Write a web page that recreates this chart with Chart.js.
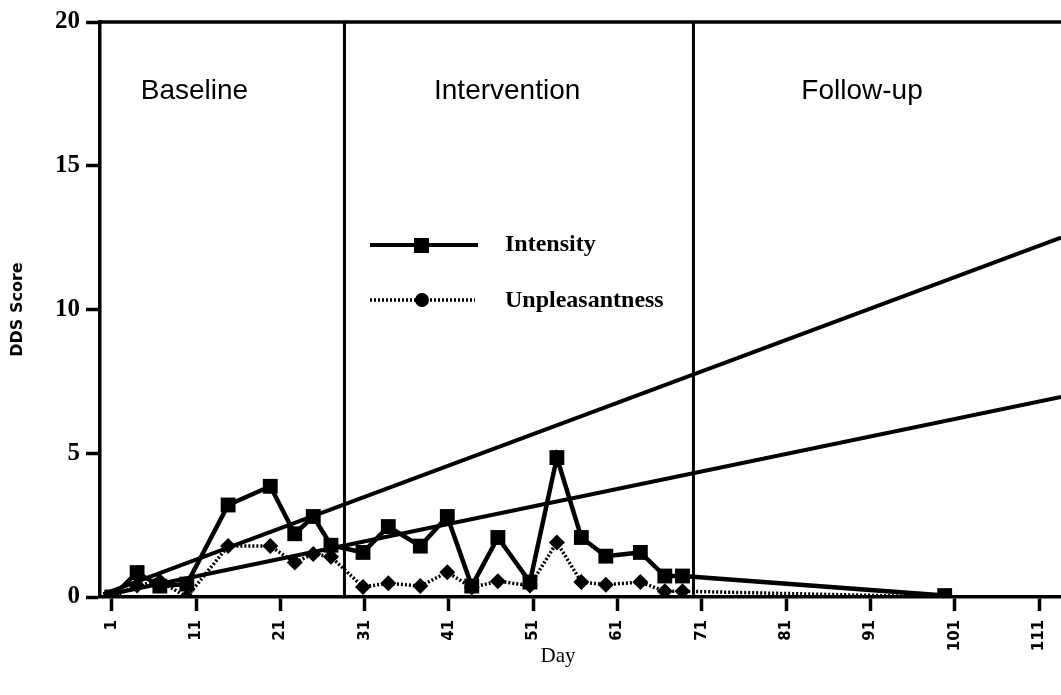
<!DOCTYPE html>
<html>
<head>
<meta charset="utf-8">
<title>DDS Score by Day</title>
<script src="https://cdn.jsdelivr.net/npm/chart.js@4.4.1/dist/chart.umd.min.js"></script>
<style>
    html, body { margin: 0; padding: 0; background: #fff; }
    #wrap { width: 1061px; height: 695px; }
</style>
</head>
<body>
<div id="wrap"><canvas id="ddsChart" width="1061" height="695"></canvas></div>
<script>
// Daily ratings
const days = [1, 4, 6.7, 9.9, 14.8, 19.8, 22.7, 24.9, 27, 30.8, 33.8, 37.6, 40.8, 43.7, 46.8, 50.6, 53.8, 56.7, 59.6, 63.7, 66.6, 68.7, 99.8];
const intensity = [0, 0.85, 0.38, 0.45, 3.2, 3.85, 2.2, 2.8, 1.8, 1.55, 2.45, 1.77, 2.8, 0.38, 2.07, 0.52, 4.85, 2.07, 1.42, 1.55, 0.73, 0.73, 0.05];
const unpleasantness = [0, 0.4, 0.55, 0, 1.77, 1.77, 1.2, 1.5, 1.4, 0.35, 0.48, 0.38, 0.86, 0.33, 0.55, 0.4, 1.9, 0.52, 0.43, 0.52, 0.2, 0.2, 0];

// Baseline trend lines (start / end of the day range)
const trendDays = [0, 113.6];
const intensityTrend = [0.1, 12.5];
const unpleasantnessTrend = [0.05, 6.96];

// Phases
const phaseNames = ["Baseline", "Intervention", "Follow-up"];
const phaseLabelDays = [10.8, 47.9, 90.0];
const phaseBreaks = [28.6, 70];

const xTicks = [1, 11, 21, 31, 41, 51, 61, 71, 81, 91, 101, 111];
const yTicks = [0, 5, 10, 15, 20];

function toPoints(xs, ys) {
    return xs.map((x, i) => ({ x: x, y: ys[i] }));
}

// Frame, phase dividers, phase names, legend and x title
const decorations = {
    id: "decorations",
    beforeDatasetsDraw(chart) {
        const { ctx, chartArea, scales } = chart;
        ctx.save();
        ctx.strokeStyle = "#000";
        ctx.lineWidth = 3.5;
        const top = scales.y.getPixelForValue(20);
        ctx.beginPath();
        ctx.moveTo(chartArea.left, top);
        ctx.lineTo(chart.width, top);
        ctx.stroke();
        ctx.lineWidth = 3;
        ctx.beginPath();
        phaseBreaks.forEach(d => {
            const px = scales.x.getPixelForValue(d);
            ctx.moveTo(px, top);
            ctx.lineTo(px, chartArea.bottom);
        });
        ctx.stroke();

        ctx.fillStyle = "#000";
        ctx.font = "28px 'Liberation Sans', Arial, sans-serif";
        ctx.textAlign = "center";
        ctx.textBaseline = "middle";
        phaseNames.forEach((name, i) => {
            ctx.fillText(name, scales.x.getPixelForValue(phaseLabelDays[i]), 91);
        });
        ctx.restore();
    },
    afterDraw(chart) {
        const { ctx } = chart;
        ctx.save();
        ctx.strokeStyle = "#000";
        ctx.fillStyle = "#000";

        // legend: Intensity
        ctx.lineWidth = 4;
        ctx.beginPath();
        ctx.moveTo(370, 245);
        ctx.lineTo(478, 245);
        ctx.stroke();
        ctx.fillRect(414, 238, 15, 15);

        // legend: Unpleasantness
        ctx.setLineDash([2, 2]);
        ctx.lineWidth = 3.5;
        ctx.beginPath();
        ctx.moveTo(370, 300);
        ctx.lineTo(475, 300);
        ctx.stroke();
        ctx.setLineDash([]);
        ctx.beginPath();
        ctx.arc(422, 300, 7, 0, Math.PI * 2);
        ctx.fill();

        ctx.font = "bold 24px 'Liberation Serif', 'Times New Roman', serif";
        ctx.textAlign = "left";
        ctx.textBaseline = "middle";
        ctx.fillText("Intensity", 505, 245);
        ctx.fillText("Unpleasantness", 505, 301);

        ctx.font = "21px 'Liberation Serif', 'Times New Roman', serif";
        ctx.textAlign = "center";
        ctx.fillText("Day", 558, 656);
        ctx.restore();
    }
};

const ctx = document.getElementById("ddsChart").getContext("2d");
new Chart(ctx, {
    type: "line",
    data: {
        datasets: [
            {
                label: "Intensity trend",
                data: toPoints(trendDays, intensityTrend),
                borderColor: "#000",
                borderWidth: 4,
                pointRadius: 0
            },
            {
                label: "Unpleasantness trend",
                data: toPoints(trendDays, unpleasantnessTrend),
                borderColor: "#000",
                borderWidth: 4,
                pointRadius: 0
            },
            {
                label: "Unpleasantness",
                data: toPoints(days, unpleasantness),
                borderColor: "#000",
                backgroundColor: "#000",
                borderWidth: 3.5,
                borderDash: [2, 2],
                pointStyle: "rectRot",
                pointRadius: 8,
                pointBorderWidth: 0
            },
            {
                label: "Intensity",
                data: toPoints(days, intensity),
                borderColor: "#000",
                backgroundColor: "#000",
                borderWidth: 4.5,
                pointStyle: "rect",
                pointRadius: 10.5,
                pointBorderWidth: 0
            }
        ]
    },
    options: {
        responsive: false,
        animation: false,
        devicePixelRatio: 1,
        layout: { autoPadding: false, padding: { top: 22, right: 0, left: 0, bottom: 0 } },
        plugins: {
            legend: { display: false },
            tooltip: { enabled: false }
        },
        scales: {
            x: {
                type: "linear",
                min: -0.4,
                max: 113.6,
                afterFit: scale => {
                    scale.height = 98;
                    scale.paddingLeft = 0;
                    scale.paddingRight = 0;
                },
                afterBuildTicks: scale => { scale.ticks = xTicks.map(v => ({ value: v })); },
                ticks: {
                    autoSkip: false,
                    minRotation: 90,
                    maxRotation: 90,
                    padding: 9,
                    color: "#000",
                    font: { family: "'DejaVu Sans', sans-serif", weight: "bold", size: 15 }
                },
                grid: {
                    drawOnChartArea: false,
                    drawTicks: true,
                    tickLength: 14,
                    tickWidth: 3.5,
                    tickColor: "#000"
                },
                border: { color: "#000", width: 3.5 }
            },
            y: {
                min: 0,
                max: 20,
                afterFit: scale => { scale.width = 100; },
                afterBuildTicks: scale => { scale.ticks = yTicks.map(v => ({ value: v })); },
                ticks: {
                    padding: 6,
                    color: "#000",
                    font: { family: "'Liberation Serif', 'Times New Roman', serif", weight: "bold", size: 25 }
                },
                grid: {
                    drawOnChartArea: false,
                    drawTicks: true,
                    tickLength: 14,
                    tickWidth: 3.5,
                    tickColor: "#000"
                },
                border: { color: "#000", width: 3.5 },
                title: {
                    display: true,
                    text: "DDS Score",
                    color: "#000",
                    padding: { top: 8, bottom: 0 },
                    font: { family: "'DejaVu Sans', sans-serif", weight: "bold", size: 16 }
                }
            }
        }
    },
    plugins: [decorations]
});
</script>
</body>
</html>
